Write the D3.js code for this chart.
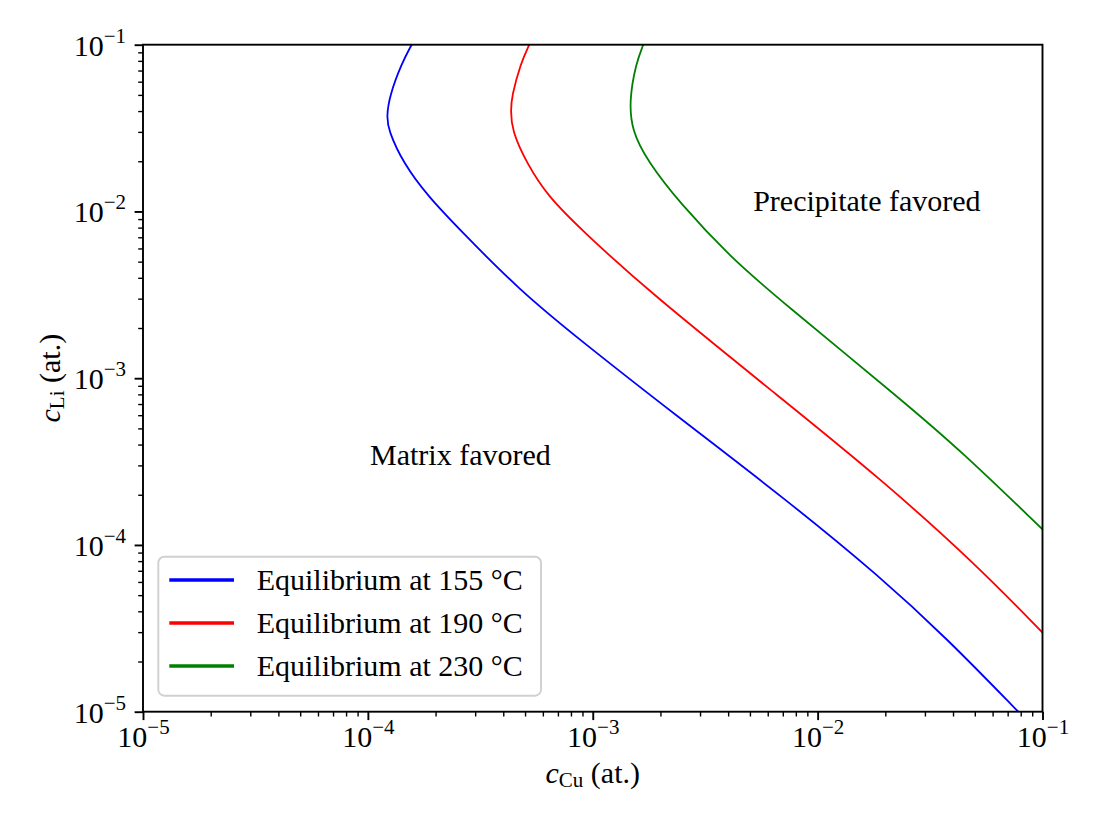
<!DOCTYPE html>
<html>
<head>
<meta charset="utf-8">
<script src="https://cdn.jsdelivr.net/npm/d3@7"></script>
<style>
  body { margin: 0; background: #fff; }
  text { font-family: "Liberation Serif", "DejaVu Serif", serif; fill: #000; }
</style>
</head>
<body>
<div id="output"></div>
<script>
var w = 1104;
var h = 828;
var padL = 143, padR = 1042.5, padT = 44.7, padB = 711.7;

// cCu with matching cLi, top of plot downwards
var cu155 = [1.566e-4, 1.414e-4, 1.245e-4, 1.213e-4, 1.233e-4, 1.437e-4, 1.856e-4, 2.569e-4, 4.71e-4, 8.77e-4,
             2.281e-3, 7.29e-3, 1.894e-2, 3.75e-2, 7.8e-2];
var li155 = [0.1, 0.0774, 0.0488, 0.037, 0.0308, 0.01944, 0.01226, 7.74e-3, 3.38e-3, 1.695e-3,
             6.16e-4, 1.86e-4, 6.45e-5, 2.756e-5, 1.0e-5];

var cu190 = [5.22e-4, 4.78e-4, 4.36e-4, 4.32e-4, 4.36e-4, 5.085e-4, 6.34e-4, 8.77e-4, 1.738e-3,
             7.04e-3, 1.894e-2, 5.1e-2, 0.1];
var li190 = [0.1, 0.0774, 0.0488, 0.0406, 0.0308, 0.01944, 0.01226, 7.92e-3, 3.38e-3,
             7.4e-4, 2.511e-4, 7.58e-5, 2.98e-5];

var cu230 = [1.678e-3, 1.557e-3, 1.454e-3, 1.49e-3, 1.738e-3, 2.44e-3, 4.08e-3, 6.8e-3,
             2.365e-2, 4.3e-2, 0.1];
var li230 = [0.1, 0.0774, 0.0466, 0.0308, 0.02035, 0.0112, 5.35e-3, 2.94e-3,
             7.4e-4, 3.71e-4, 1.241e-4];

var labels = ['Equilibrium at 155 °C', 'Equilibrium at 190 °C', 'Equilibrium at 230 °C'];
var colors = ['#0000ff', '#ff0000', '#008000'];
var majorTicks = [1e-5, 1e-4, 1e-3, 1e-2, 1e-1];
var exponents = ['−5', '−4', '−3', '−2', '−1'];

var series = [
  { cu: cu155, li: li155 },
  { cu: cu190, li: li190 },
  { cu: cu230, li: li230 }
];

var minorTicks = [];
majorTicks.slice(0, 4).forEach(function (d) {
  for (var k = 2; k <= 9; k++) minorTicks.push(d * k);
});

var x = d3.scaleLog().domain([1e-5, 1e-1]).range([padL, padR]);
var y = d3.scaleLog().domain([1e-5, 1e-1]).range([padB, padT]);

var svg = d3.select('#output').append('svg')
  .attr('width', w)
  .attr('height', h);

svg.append('defs').append('clipPath').attr('id', 'clip')
  .append('rect')
  .attr('x', padL).attr('y', padT)
  .attr('width', padR - padL).attr('height', padB - padT);

var line = d3.line()
  .x(function (d) { return x(d[0]); })
  .y(function (d) { return y(d[1]); })
  .curve(d3.curveBasis);

svg.append('g').attr('clip-path', 'url(#clip)')
  .selectAll('path')
  .data(series)
  .enter()
  .append('path')
  .attr('d', function (s) { return line(s.cu.map(function (v, i) { return [v, s.li[i]]; })); })
  .attr('fill', 'none')
  .attr('stroke', function (d, i) { return colors[i]; })
  .attr('stroke-width', 1.8);

// axes
function styleAxis(g) {
  g.select('.domain').remove();
  g.selectAll('line').attr('stroke', '#000');
}

var xMinor = svg.append('g').attr('transform', 'translate(0,' + padB + ')')
  .call(d3.axisBottom(x).tickValues(minorTicks).tickSize(4.8).tickFormat(''));
xMinor.call(styleAxis); xMinor.selectAll('line').attr('stroke-width', 1.4);

var yMinor = svg.append('g').attr('transform', 'translate(' + padL + ',0)')
  .call(d3.axisLeft(y).tickValues(minorTicks).tickSize(4.8).tickFormat(''));
yMinor.call(styleAxis); yMinor.selectAll('line').attr('stroke-width', 1.4);

var xMajor = svg.append('g').attr('transform', 'translate(0,' + padB + ')')
  .call(d3.axisBottom(x).tickValues(majorTicks).tickSize(8.4).tickFormat(''));
xMajor.call(styleAxis); xMajor.selectAll('line').attr('stroke-width', 1.9);

var yMajor = svg.append('g').attr('transform', 'translate(' + padL + ',0)')
  .call(d3.axisLeft(y).tickValues(majorTicks).tickSize(8.4).tickFormat(''));
yMajor.call(styleAxis); yMajor.selectAll('line').attr('stroke-width', 1.9);

// tick labels as 10^n
xMajor.selectAll('.tick').each(function (d, i) {
  var t = d3.select(this).append('text')
    .attr('x', 0).attr('y', 35)
    .attr('text-anchor', 'middle')
    .attr('font-size', 30)
    .attr('fill', '#000');
  t.append('tspan').text('10');
  t.append('tspan').attr('dy', -13).attr('font-size', 21).text(exponents[i]);
});

yMajor.selectAll('.tick').each(function (d, i) {
  var t = d3.select(this).append('text')
    .attr('x', -17).attr('y', 10.5)
    .attr('text-anchor', 'end')
    .attr('font-size', 30)
    .attr('fill', '#000');
  t.append('tspan').text('10');
  t.append('tspan').attr('dy', -13).attr('font-size', 21).text(exponents[i]);
});

// frame
svg.append('rect')
  .attr('x', padL).attr('y', padT)
  .attr('width', padR - padL).attr('height', padB - padT)
  .attr('fill', 'none')
  .attr('stroke', '#000')
  .attr('stroke-width', 1.9);

// axis titles
var xl = svg.append('text')
  .attr('x', (padL + padR) / 2).attr('y', 783)
  .attr('text-anchor', 'middle')
  .attr('font-size', 30);
xl.append('tspan').attr('font-style', 'italic').text('c');
xl.append('tspan').attr('font-size', 21).attr('dy', 4).text('Cu');
xl.append('tspan').attr('dy', -4).text(' (at.)');

var yl = svg.append('text')
  .attr('transform', 'translate(60,' + ((padT + padB) / 2) + ') rotate(-90)')
  .attr('text-anchor', 'middle')
  .attr('font-size', 30);
yl.append('tspan').attr('font-style', 'italic').text('c');
yl.append('tspan').attr('font-size', 21).attr('dy', 4).text('Li');
yl.append('tspan').attr('dy', -4).text(' (at.)');

// region notes
var notes = [
  { text: 'Matrix favored', cu: 2.58e-4, li: 3.01e-4 },
  { text: 'Precipitate favored', cu: 1.656e-2, li: 1.0e-2 }
];
svg.selectAll('text.note')
  .data(notes)
  .enter()
  .append('text')
  .attr('class', 'note')
  .attr('x', function (d) { return x(d.cu); })
  .attr('y', function (d) { return y(d.li); })
  .attr('text-anchor', 'middle')
  .attr('font-size', 30)
  .text(function (d) { return d.text; });

// legend
var lg = svg.append('g').attr('transform', 'translate(158.3,556.7)');
lg.append('rect')
  .attr('width', 382.7).attr('height', 139)
  .attr('rx', 6).attr('ry', 6)
  .attr('fill', 'rgba(255,255,255,0.8)')
  .attr('stroke', '#d0d0d0')
  .attr('stroke-width', 1.9);
var rows = lg.selectAll('g.row')
  .data(labels)
  .enter()
  .append('g')
  .attr('class', 'row')
  .attr('transform', function (d, i) { return 'translate(0,' + (23.3 + i * 43) + ')'; });
rows.append('line')
  .attr('x1', 11).attr('x2', 75.7)
  .attr('stroke', function (d, i) { return colors[i]; })
  .attr('stroke-width', 3.4);
rows.append('text')
  .attr('x', 98.4).attr('y', 10)
  .attr('font-size', 30)
  .text(function (d) { return d; });
</script>
</body>
</html>
